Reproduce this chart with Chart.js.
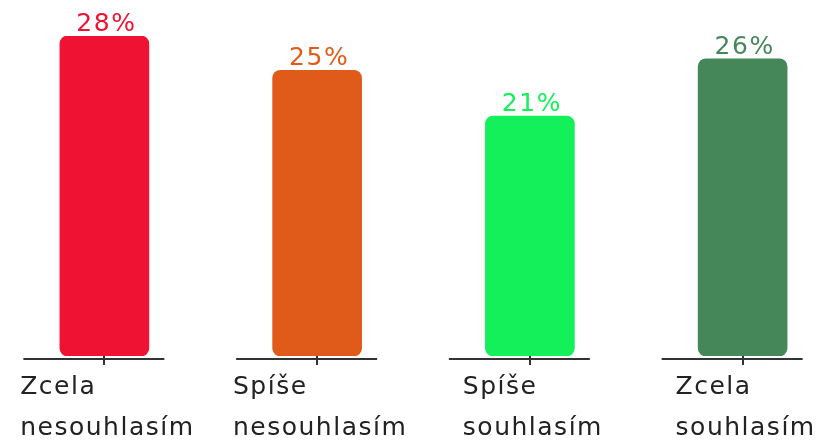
<!DOCTYPE html>
<html lang="cs">
<head>
  <meta charset="UTF-8" />
  <title>Souhlas</title>
  <script src="https://cdn.jsdelivr.net/npm/chart.js"></script>
  <style>
    html, body {
      margin: 0;
      padding: 0;
      background: #fff;
      overflow: hidden;
    }
    #obal {
      position: relative;
      width: 851px;
      height: 440px;
      margin-left: -2px;
    }
  </style>
</head>
<body>
  <div id="obal"><canvas id="graf"></canvas></div>

  <script>
    // Data grafu
    const kategorie = [
      ["Zcela", "nesouhlasím"],
      ["Spíše", "nesouhlasím"],
      ["Spíše", "souhlasím"],
      ["Zcela", "souhlasím"]
    ];
    const hodnoty = [28, 25, 21, 26];
    const barvy = ["#ef1232", "#e05b19", "#14f05a", "#46875a"];

    const pismo = '25px "DejaVu Sans"';

    // popisky pod osou, kousky osy a procenta nad sloupci
    const popisky = {
      id: "popisky",
      afterDraw(chart) {
        const ctx = chart.ctx;
        const sx = chart.scales.x;
        const dole = chart.chartArea.bottom;
        ctx.save();
        ctx.letterSpacing = "1.5px";
        ctx.font = pismo;

        kategorie.forEach((k, i) => {
          const x = sx.getPixelForTick(i);
          ctx.strokeStyle = "#333";
          ctx.lineWidth = 2;
          ctx.beginPath();
          ctx.moveTo(x - 81, dole + 3);
          ctx.lineTo(x + 60, dole + 3);
          ctx.stroke();

          const sirka = Math.max(...k.map(t => ctx.measureText(t).width));
          const x0 = x - sirka / 2 + 3;
          ctx.fillStyle = "#222";
          ctx.textAlign = "left";
          ctx.textBaseline = "alphabetic";
          k.forEach((t, j) => ctx.fillText(t, x0, dole + 37.5 + j * 41));
        });

        const meta = chart.getDatasetMeta(0);
        meta.data.forEach((bar, i) => {
          ctx.fillStyle = barvy[i];
          ctx.textAlign = "center";
          ctx.textBaseline = "alphabetic";
          ctx.fillText(hodnoty[i] + "%", bar.x + 2, bar.y - 5);
        });
        ctx.restore();
      }
    };

    new Chart(document.getElementById("graf"), {
      type: "bar",
      data: {
        labels: kategorie,
        datasets: [{
          data: hodnoty,
          backgroundColor: barvy,
          borderRadius: 8,
          borderSkipped: false,
          barThickness: 89
        }]
      },
      options: {
        responsive: true,
        maintainAspectRatio: false,
        animation: false,
        layout: { padding: { top: 36, left: 0, right: 0, bottom: 0 } },
        plugins: {
          legend: { display: false },
          tooltip: { enabled: false }
        },
        scales: {
          x: {
            grid: {
              offset: false,
              drawOnChartArea: false,
              drawTicks: true,
              tickLength: 9,
              color: "#333",
              lineWidth: 2
            },
            border: { display: false },
            ticks: { display: false },
            afterFit(s) { s.height = 84; }
          },
          y: { display: false, min: 0, max: 28 }
        }
      },
      plugins: [popisky]
    });
  </script>
</body>
</html>
